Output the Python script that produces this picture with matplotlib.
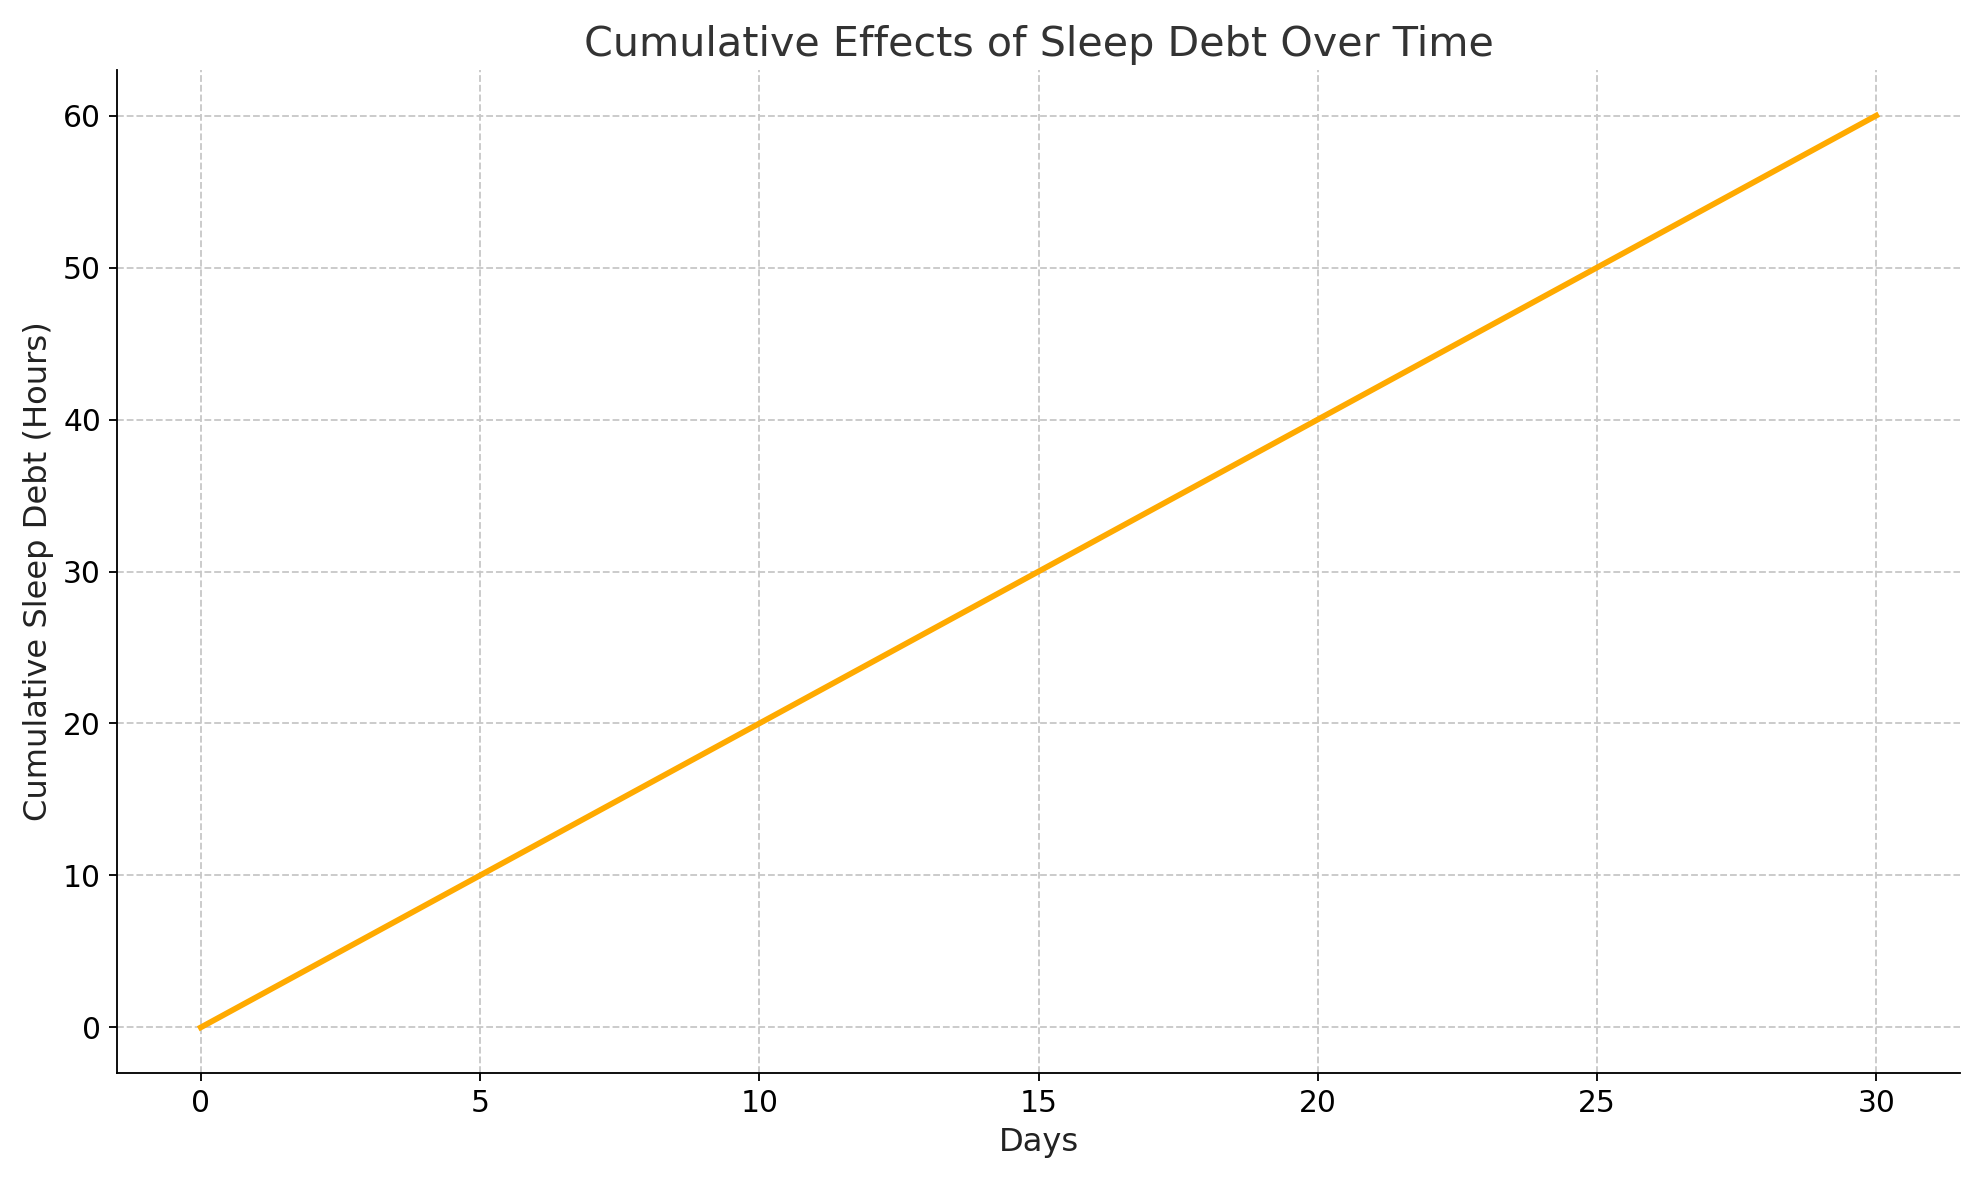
import matplotlib
matplotlib.use("Agg")
import matplotlib.pyplot as plt

days = [0, 1, 2, 3, 4, 5, 6, 7, 8, 9, 10, 11, 12, 13, 14, 15,
        16, 17, 18, 19, 20, 21, 22, 23, 24, 25, 26, 27, 28, 29, 30]
sleep_debt = [0, 2, 4, 6, 8, 10, 12, 14, 16, 18, 20, 22, 24, 26, 28, 30,
              32, 34, 36, 38, 40, 42, 44, 46, 48, 50, 52, 54, 56, 58, 60]
x_ticks = [0, 5, 10, 15, 20, 25, 30]
y_ticks = [0, 10, 20, 30, 40, 50, 60]

fig = plt.figure(figsize=(1979/165, 1180/165), dpi=165)
ax = fig.add_axes([117/1979, 1 - 1073/1180, (1960-117)/1979, (1073-70)/1180])
ax.plot(days, sleep_debt, color="#FFAA00", linewidth=2.5)
ax.set_xticks(x_ticks)
ax.set_yticks(y_ticks)
ax.set_xlim(-1.5, 31.5)
ax.set_ylim(-3, 63)
ax.grid(True, linestyle="--", color="#c8c8c8", linewidth=0.8)
ax.spines["top"].set_visible(False)
ax.spines["right"].set_visible(False)
ax.tick_params(labelsize=13)
ax.set_title("Cumulative Effects of Sleep Debt Over Time", fontsize=18, color="#333333")
ax.set_xlabel("Days", fontsize=14, color="#222222")
ax.set_ylabel("Cumulative Sleep Debt (Hours)", fontsize=14, color="#222222")
fig.savefig("out.png", dpi=165)
